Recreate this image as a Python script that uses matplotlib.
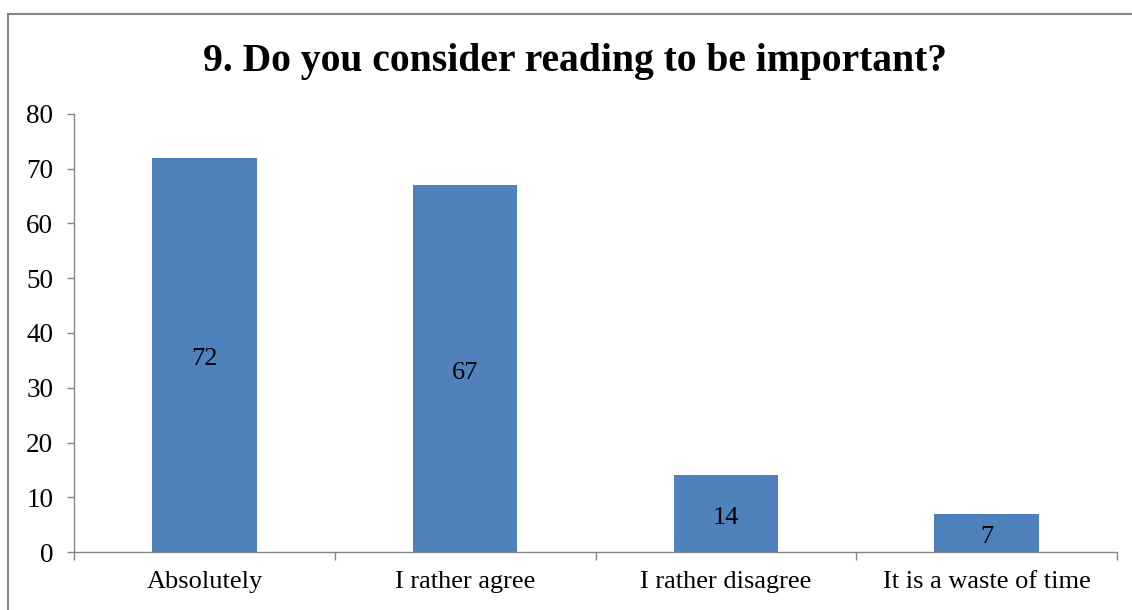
import matplotlib.pyplot as plt
from matplotlib.patches import Rectangle

categories = ["Absolutely", "I rather agree", "I rather disagree", "It is a waste of time"]
counts = [72, 67, 14, 7]
y_ticks = [0, 10, 20, 30, 40, 50, 60, 70, 80]

plt.rcParams['font.family'] = ['Liberation Serif', 'DejaVu Serif']
grey = '#868686'
blue = '#4F81BD'

fig = plt.figure(figsize=(11.32, 6.10), dpi=100)

# chart area frame, only left and top edges visible
fig.patches.append(Rectangle((8 / 1132, -0.1), 1.2, 1.1 - 14 / 610,
                             transform=fig.transFigure, fill=False,
                             edgecolor=grey, linewidth=1.5))

ax = fig.add_axes([74 / 1132, 58 / 610, (1117 - 74) / 1132, (552 - 114) / 610])

x = list(range(len(categories)))
bars = ax.bar(x, counts, width=0.4, color=blue, zorder=2)
for xi, v in zip(x, counts):
    ax.annotate(str(v), (xi, v / 2), xytext=(0, -3), textcoords='offset points',
                ha='center', va='center', fontsize=19, color='black')

ax.set_xlim(-0.5, len(categories) - 0.5)
ax.set_ylim(0, 80)
ax.set_yticks(y_ticks)
ax.tick_params(axis='y', length=5, width=1, color=grey, pad=10, labelsize=19.5)

ax.set_xticks([i - 0.5 for i in range(len(categories) + 1)])
ax.set_xticklabels([])
ax.tick_params(axis='x', which='major', length=6, width=1, color=grey)
ax.set_xticks(x, minor=True)
ax.set_xticklabels(categories, minor=True)
ax.tick_params(axis='x', which='minor', length=0, pad=14, labelsize=19)

for side in ('top', 'right'):
    ax.spines[side].set_visible(False)
for side in ('left', 'bottom'):
    ax.spines[side].set_color(grey)
    ax.spines[side].set_linewidth(1)

fig.text(575 / 1132, 1 - 62 / 610, "9. Do you consider reading to be important?",
         ha='center', va='center', fontsize=28.5, fontweight='bold')

fig.savefig('out.png', dpi=100)
